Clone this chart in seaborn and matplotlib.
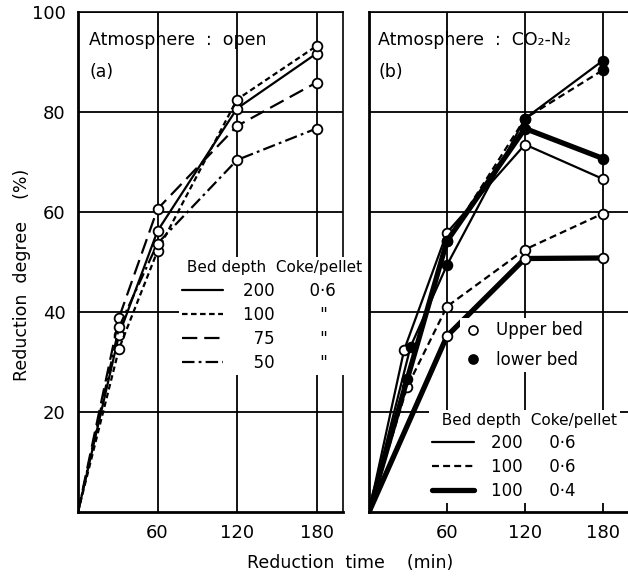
import matplotlib
matplotlib.use("Agg")
import matplotlib.pyplot as plt
import seaborn as sns
from matplotlib.lines import Line2D

# (a) atmosphere open: reduction degree (%) against reduction time (min)
a_time = [0, 31, 60, 120, 180]
a_200 = [0, 35.5, 56.2, 80.7, 91.7]
a_100 = [0, 32.7, 52.2, 82.5, 93.2]
a_75 = [0, 38.9, 60.6, 77.2, 85.9]
a_50 = [0, 37.0, 53.7, 70.4, 76.7]
a_depths = ["200", "100", "\u200775", "\u200750"]
a_ratios = ["0·6", "\u2007\"", "\u2007\"", "\u2007\""]

# (b) atmosphere CO2-N2: upper bed (open) and lower bed (filled)
b_time_200_up = [0, 27, 60, 120, 180]
b_200_up = [0, 32.4, 55.9, 73.5, 66.6]
b_time_100_up = [0, 29.5, 60, 120, 180]
b_100_up = [0, 25.1, 41.1, 52.5, 59.7]
b_time_100t_up = [0, 60, 120, 180]
b_100t_up = [0, 35.2, 50.7, 50.8]
b_time_200_low = [0, 32, 60, 120, 180]
b_200_low = [0, 33.1, 49.4, 78.7, 90.3]
b_time_100_low = [0, 29.5, 60, 120, 180]
b_100_low = [0, 26.7, 54.2, 78.7, 88.4]
b_time_100t_low = [0, 60, 120, 180]
b_100t_low = [0, 54.2, 76.7, 70.7]
b_depths = ["200", "100", "100"]
b_ratios = ["0·6", "0·6", "0·4"]

x_ticks = [60, 120, 180]
y_ticks = [20, 40, 60, 80, 100]

sns.set_style("white")
plt.rcParams["font.family"] = ["DejaVu Sans"]
plt.rcParams["lines.scale_dashes"] = False
for key in ["text.color", "axes.labelcolor", "xtick.color", "ytick.color"]:
    plt.rcParams[key] = "black"

SOLID = "-"
SHORT = (0, (4, 2.5))
LONG = (0, (11, 5))
DASHDOT = (0, (9, 3, 2, 3))
BDASH = (0, (5, 3))
THIN = 1.6
THICK = 3.8

fig = plt.figure(figsize=(6.28, 5.76), dpi=100)
ax_a = fig.add_axes([78 / 628, 64 / 576, 265 / 628, 500 / 576])
ax_b = fig.add_axes([369 / 628, 64 / 576, 260 / 628, 500 / 576])


def draw(ax, t, y, ls, lw, filled=False):
    sns.lineplot(x=t, y=y, ax=ax, color="k", linewidth=lw, linestyle=ls,
                 marker="o", markevery=list(range(1, len(t))), markersize=7,
                 markerfacecolor="k" if filled else "w", mec="k", mew=1.3,
                 zorder=3, errorbar=None)


draw(ax_a, a_time, a_200, SOLID, THIN)
draw(ax_a, a_time, a_100, SHORT, THIN)
draw(ax_a, a_time, a_75, LONG, THIN)
draw(ax_a, a_time, a_50, DASHDOT, THIN)

draw(ax_b, b_time_200_up, b_200_up, SOLID, THIN)
draw(ax_b, b_time_100_up, b_100_up, BDASH, THIN)
draw(ax_b, b_time_100t_up, b_100t_up, SOLID, THICK)
draw(ax_b, b_time_200_low, b_200_low, SOLID, THIN, True)
draw(ax_b, b_time_100_low, b_100_low, BDASH, THIN, True)
draw(ax_b, b_time_100t_low, b_100t_low, SOLID, THICK, True)

for ax in (ax_a, ax_b):
    ax.set_xlim(0, 200)
    ax.set_ylim(0, 100)
    ax.set_xticks(x_ticks)
    ax.set_yticks(y_ticks)
    ax.grid(True, color="k", linewidth=1.3)
    ax.set_axisbelow(True)
    ax.tick_params(length=0, labelsize=13, pad=9)
    ax.set_xlabel("")
    ax.set_ylabel("")
    for side in ["left", "bottom"]:
        ax.spines[side].set_linewidth(2)
        ax.spines[side].set_color("k")
    for side in ["top", "right"]:
        ax.spines[side].set_linewidth(1.2)
        ax.spines[side].set_color("k")
ax_b.set_yticklabels([])
ax_b.spines["right"].set_visible(False)

ax_a.text(0.042, 0.944, "Atmosphere  :  open", transform=ax_a.transAxes,
          fontsize=12.5, va="center")
ax_a.text(0.042, 0.88, "(a)", transform=ax_a.transAxes, fontsize=12.5, va="center")
ax_b.text(0.035, 0.944, "Atmosphere  :  CO₂-N₂", transform=ax_b.transAxes,
          fontsize=12.5, va="center")
ax_b.text(0.035, 0.88, "(b)", transform=ax_b.transAxes, fontsize=12.5, va="center")

leg_kw = dict(frameon=True, fancybox=False, edgecolor="none", facecolor="white",
              framealpha=1, borderaxespad=0, loc="upper left")

a_handles = [Line2D([], [], color="k", linewidth=THIN, linestyle=s)
             for s in [SOLID, SHORT, LONG, DASHDOT]]
a_labels = [d + "\u2003\u2003\u200a" + r for d, r in zip(a_depths, a_ratios)]
ax_a.legend(a_handles, a_labels, title=" Bed depth  Coke/pellet",
            bbox_to_anchor=(0.38, 0.51), fontsize=12, title_fontsize=11,
            handlelength=2.45, handletextpad=1.2, labelspacing=0.37,
            borderpad=0.2, alignment="left", **leg_kw)

b_handles = [Line2D([], [], color="k", linewidth=w, linestyle=s)
             for s, w in [(SOLID, THIN), (BDASH, THIN), (SOLID, THICK)]]
b_labels = [d + "\u2003\u2002\u200a" + r for d, r in zip(b_depths, b_ratios)]
leg_b = ax_b.legend(b_handles, b_labels, title="  Bed depth  Coke/pellet",
                    bbox_to_anchor=(0.23, 0.205), fontsize=12, title_fontsize=11,
                    handlelength=2.5, handletextpad=1.05, labelspacing=0.36,
                    borderpad=0.2, alignment="left", **leg_kw)
ax_b.add_artist(leg_b)

bed_handles = [Line2D([], [], color="k", linestyle="none", marker="o", markersize=6.5,
                      markerfacecolor=f, markeredgecolor="k", markeredgewidth=1.2)
               for f in ["w", "k"]]
ax_b.legend(bed_handles, ["Upper bed", "lower bed"], bbox_to_anchor=(0.35, 0.388),
            fontsize=12, handlelength=1.1, handletextpad=0.85, labelspacing=0.7,
            borderpad=0.2, **leg_kw)

fig.text(0.557, 0.023, "Reduction  time    (min)", ha="center", va="center", fontsize=12.5)
fig.text(0.035, 0.523, "Reduction  degree    (%)", ha="center", va="center",
         rotation=90, fontsize=12.5)

fig.savefig("out.png", dpi=100, facecolor="white")
